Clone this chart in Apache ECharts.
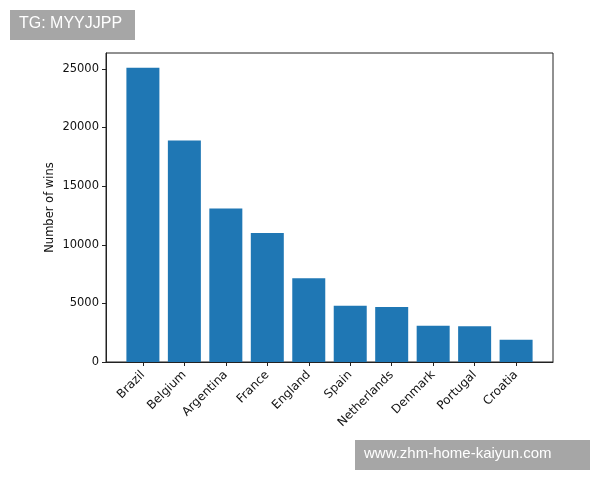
<!DOCTYPE html>
<html>
<head>
<meta charset="utf-8">
<script src="https://cdn.jsdelivr.net/npm/echarts@6/dist/echarts.min.js"></script>
<style>
html,body{margin:0;padding:0;background:#fff;}
#chart{width:600px;height:480px;}
</style>
</head>
<body>
<div id="chart"></div>
<script>
const categories = ['Brazil','Belgium','Argentina','France','England','Spain','Netherlands','Denmark','Portugal','Croatia'];
const wins = [25100, 18900, 13100, 11000, 7150, 4800, 4700, 3100, 3050, 1900];
const yTicks = [0, 5000, 10000, 15000, 20000, 25000];
const yAxisTitle = 'Number of wins';
const watermarkTop = 'TG: MYYJJPP';
const watermarkBottom = 'www.zhm-home-kaiyun.com';

const chart = echarts.init(document.getElementById('chart'));
const font = 'DejaVu Sans';
const xIdx = categories.map((c, i) => i);
chart.setOption({
  animation: false,
  backgroundColor: '#fff',
  grid: { left: 106, top: 53, right: 47, bottom: 118, show: true, borderColor: '#222', borderWidth: 1, backgroundColor: 'transparent' },
  xAxis: {
    type: 'value',
    min: -0.89,
    max: categories.length - 1 + 0.89,
    splitLine: { show: false },
    axisLine: { show: true, onZero: false, lineStyle: { color: '#222', width: 1 } },
    axisTick: { show: true, length: 4, lineStyle: { color: '#222' }, customValues: xIdx },
    axisLabel: {
      customValues: xIdx,
      rotate: 45,
      margin: 11,
      fontFamily: font,
      fontSize: 12,
      color: '#111',
      formatter: v => categories[Math.round(v)] || ''
    }
  },
  yAxis: {
    type: 'value',
    min: 0,
    max: 26355,
    name: yAxisTitle,
    nameLocation: 'middle',
    nameGap: 50,
    nameMoveOverlap: false,
    nameTextStyle: { fontFamily: font, fontSize: 11.5, color: '#111' },
    splitLine: { show: false },
    axisLine: { show: true, onZero: false, lineStyle: { color: '#222', width: 1 } },
    axisTick: { show: true, length: 4, lineStyle: { color: '#222' }, customValues: yTicks },
    axisLabel: { customValues: yTicks, margin: 7, fontFamily: font, fontSize: 11.5, color: '#111', formatter: v => String(v) }
  },
  series: [{
    type: 'bar',
    data: wins.map((v, i) => [i, v]),
    barWidth: 33,
    itemStyle: { color: '#1f77b4' }
  }],
  graphic: [
    { type: 'rect', left: 10, top: 10, shape: { width: 125, height: 30 }, style: { fill: '#a6a6a6' } },
    { type: 'text', left: 19, top: 16, style: { text: watermarkTop, fill: '#fff', font: '16px Liberation Sans' } },
    { type: 'rect', left: 355, top: 440, shape: { width: 235, height: 30 }, style: { fill: '#a6a6a6' } },
    { type: 'text', left: 364, top: 446, style: { text: watermarkBottom, fill: '#fff', font: '15px Liberation Sans' } }
  ]
});
</script>
</body>
</html>
